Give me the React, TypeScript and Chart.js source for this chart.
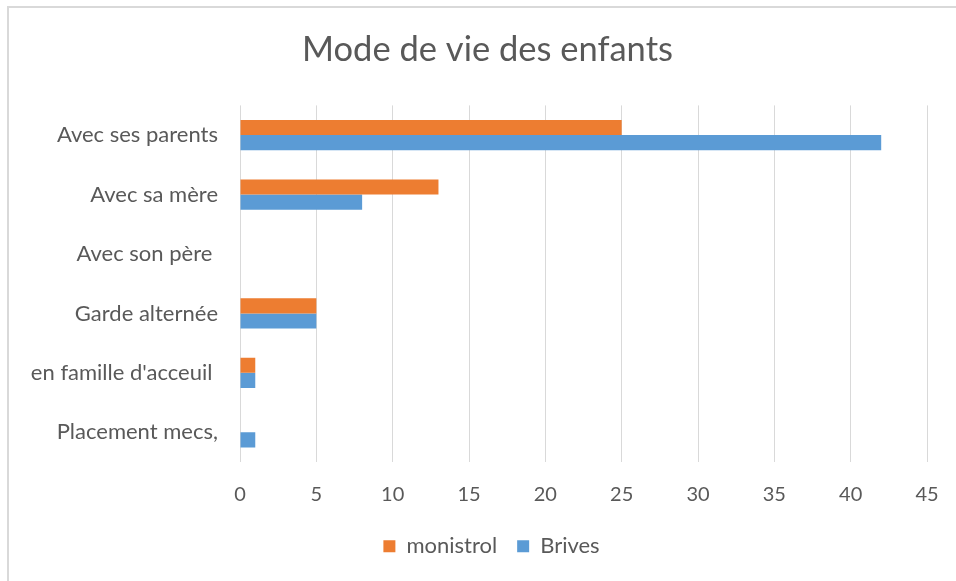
import React, { useEffect, useRef } from "react";
import { Chart, registerables } from "chart.js";

Chart.register(...registerables);

const categories = [
  "Avec ses parents",
  "Avec sa mère",
  "Avec son père ",
  "Garde alternée",
  "en famille d'acceuil ",
  "Placement mecs,",
];
const monistrol = [25, 13, 0, 5, 1, 0];
const brives = [42, 8, 0, 5, 1, 1];
const xMin = 0;
const xMax = 45;
const xStep = 5;

const FONT = "Lato, 'Open Sans', sans-serif";
const TEXT = "#595959";

const shiftPlugin = {
  id: "shiftBlocks",
  afterLayout(chart: any) {
    const t = chart.titleBlock;
    if (t) {
      t.left += 24;
      t.right += 24;
    }
    const l = chart.legend;
    if (l) {
      l.left += 28;
      l.right += 28;
    }
  },
};

export default function App() {
  const ref = useRef<HTMLCanvasElement | null>(null);

  useEffect(() => {
    document.body.style.margin = "0";
    const ctx = ref.current!.getContext("2d")!;
    const chart = new Chart(ctx, {
      type: "bar",
      data: {
        labels: categories,
        datasets: [
          {
            label: "monistrol",
            data: monistrol,
            backgroundColor: "#ED7D31",
            categoryPercentage: 0.51,
            barPercentage: 1.0,
          },
          {
            label: "Brives",
            data: brives,
            backgroundColor: "#5B9BD5",
            categoryPercentage: 0.51,
            barPercentage: 1.0,
          },
        ],
      },
      plugins: [shiftPlugin],
      options: {
        indexAxis: "y",
        responsive: false,
        animation: false,
        layout: { padding: { left: 0, right: 29, top: 0, bottom: 13.75 } },
        plugins: {
          title: {
            display: true,
            text: "Mode de vie des enfants",
            color: TEXT,
            font: { family: FONT, size: 34.5, weight: "normal" },
            padding: { top: 29, bottom: 35 },
          },
          legend: {
            display: true,
            position: "bottom",
            labels: {
              color: TEXT,
              font: { family: FONT, size: 22 },
              boxWidth: 12,
              boxHeight: 12,
              padding: 20,
            },
          },
          tooltip: { enabled: false },
        },
        scales: {
          x: {
            min: xMin,
            max: xMax,
            ticks: {
              stepSize: xStep,
              color: TEXT,
              font: { family: FONT, size: 20 },
              padding: 20.5,
            },
            grid: { color: "#D9D9D9", lineWidth: 1, drawTicks: false },
            border: { display: false },
            afterFit: (scale: any) => {
              scale.height = 53.25;
              scale.paddingRight = 0;
              scale.paddingLeft = 0;
            },
          },
          y: {
            ticks: {
              color: TEXT,
              font: { family: FONT, size: 22 },
              padding: 22,
            },
            grid: { display: false, drawTicks: false },
            border: { display: false },
            afterFit: (scale: any) => {
              scale.width = 240;
            },
          },
        },
      },
    });
    return () => chart.destroy();
  }, []);

  return (
    <div
      style={{
        position: "absolute",
        left: 0,
        top: 0,
        width: 956,
        height: 581,
        background: "#fff",
        overflow: "hidden",
      }}
    >
      <div
        style={{
          position: "absolute",
          left: 7,
          top: 6,
          width: 980,
          height: 580,
          borderLeft: "2px solid #D9D9D9",
          borderTop: "2px solid #D9D9D9",
        }}
      />
      <canvas
        ref={ref}
        width={956}
        height={581}
        style={{ position: "absolute", left: 0, top: 0 }}
      />
    </div>
  );
}
